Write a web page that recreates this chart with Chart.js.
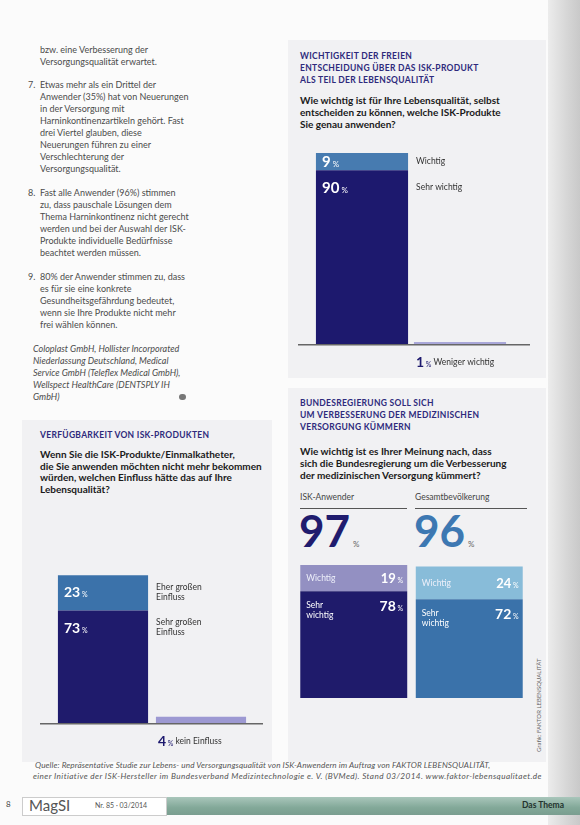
<!DOCTYPE html>
<html><head><meta charset="utf-8">
<script src="https://cdn.jsdelivr.net/npm/chart.js@4.4.1/dist/chart.umd.min.js"></script>
<style>
html,body{margin:0;padding:0;background:#fff;}
#page{position:relative;width:580px;height:825px;overflow:hidden;background:#fbfbfb;font-family:Lato,"Noto Sans",sans-serif;color:#333;}
.abs{position:absolute;white-space:nowrap;}
.txt{font-size:9px;line-height:12px;color:#4b4b4b;}
.num{position:absolute;left:-12px;}
.head{font-size:8.5px;font-weight:700;line-height:11.8px;color:#2e2a7c;letter-spacing:0.3px;}
.q{font-size:10px;font-weight:700;line-height:12px;color:#1a1a1a;}
.panel{position:absolute;background:#f1f1f3;}
.grp{font-size:8.5px;line-height:12px;color:#444;}
.rule{position:absolute;height:1px;background:#555;}
.big{font-size:44px;font-weight:700;line-height:44px;}
.foot{font-size:8.2px;font-style:italic;line-height:11px;color:#555;}
canvas{position:absolute;}
</style></head>
<body><div id="page">

<div class="panel" style="left:288px;top:40px;width:258px;height:338px;"></div>
<div class="panel" style="left:288px;top:388px;width:258px;height:374px;"></div>
<div class="panel" style="left:22px;top:420px;width:250px;height:342px;"></div>
<div class="abs" style="left:548px;top:0;width:32px;height:825px;background:linear-gradient(90deg,#ececec,#d6d6d6 60%,#c9c9c9);"></div>

<!-- left column text -->
<div class="abs txt" style="left:40px;top:44px;">bzw. eine Verbesserung der<br>Versorgungsqualität erwartet.</div>
<div class="abs txt" style="left:40px;top:79px;"><span class="num">7.</span>Etwas mehr als ein Drittel der<br>Anwender (35%) hat von Neuerungen<br>in der Versorgung mit<br>Harninkontinenzartikeln gehört. Fast<br>drei Viertel glauben, diese<br>Neuerungen führen zu einer<br>Verschlechterung der<br>Versorgungsqualität.</div>
<div class="abs txt" style="left:40px;top:187px;"><span class="num">8.</span>Fast alle Anwender (96%) stimmen<br>zu, dass pauschale Lösungen dem<br>Thema Harninkontinenz nicht gerecht<br>werden und bei der Auswahl der ISK-<br>Produkte individuelle Bedürfnisse<br>beachtet werden müssen.</div>
<div class="abs txt" style="left:40px;top:271px;"><span class="num">9.</span>80% der Anwender stimmen zu, dass<br>es für sie eine konkrete<br>Gesundheitsgefährdung bedeutet,<br>wenn sie Ihre Produkte nicht mehr<br>frei wählen können.</div>
<div class="abs txt" style="left:33px;top:343px;font-style:italic;">Coloplast GmbH, Hollister Incorporated<br>Niederlassung Deutschland, Medical<br>Service GmbH (Teleflex Medical GmbH),<br>Wellspect HealthCare (DENTSPLY IH<br>GmbH)</div>
<div class="abs" style="left:179px;top:394px;width:7px;height:6px;border-radius:3px;background:#777;"></div>

<!-- top right -->
<div class="abs head" style="left:300px;top:51px;">WICHTIGKEIT DER FREIEN<br>ENTSCHEIDUNG ÜBER DAS ISK-PRODUKT<br>ALS TEIL DER LEBENSQUALITÄT</div>
<div class="abs q" style="left:300px;top:94px;">Wie wichtig ist für Ihre Lebensqualität, selbst<br>entscheiden zu können, welche ISK-Produkte<br>Sie genau anwenden?</div>
<canvas id="frei" width="240" height="235" style="left:298px;top:140px;"></canvas>

<!-- bottom right -->
<div class="abs head" style="left:300px;top:398px;">BUNDESREGIERUNG SOLL SICH<br>UM VERBESSERUNG DER MEDIZINISCHEN<br>VERSORGUNG KÜMMERN</div>
<div class="abs q" style="left:300px;top:445px;">Wie wichtig ist es Ihrer Meinung nach, dass<br>sich die Bundesregierung um die Verbesserung<br>der medizinischen Versorgung kümmert?</div>
<div class="abs grp" id="g0" style="left:300px;top:491px;"></div>
<div class="abs grp" id="g1" style="left:415px;top:491px;"></div>
<div class="rule" style="left:300px;top:508px;width:107px;"></div>
<div class="rule" style="left:415px;top:508px;width:112px;"></div>
<div class="abs big" id="t0" style="left:299px;top:508px;color:#201c6e;"></div>
<div class="abs big" id="t1" style="left:414px;top:508px;color:#3d78b2;"></div>
<canvas id="bund" width="232" height="150" style="left:296px;top:555px;"></canvas>

<!-- bottom left -->
<div class="abs head" style="left:40px;top:430px;">VERFÜGBARKEIT VON ISK-PRODUKTEN</div>
<div class="abs q" style="left:40px;top:449px;line-height:11.7px;">Wenn Sie die ISK-Produkte/Einmalkatheter,<br>die Sie anwenden möchten nicht mehr bekommen<br>würden, welchen Einfluss hätte das auf Ihre<br>Lebensqualität?</div>
<canvas id="verf" width="235" height="200" style="left:38px;top:560px;"></canvas>

<!-- footer -->
<div class="abs foot" style="left:35px;top:760px;letter-spacing:0.1px;">Quelle: Repräsentative Studie zur Lebens- und Versorgungsqualität von ISK-Anwendern im Auftrag von FAKTOR LEBENSQUALITÄT,</div>
<div class="abs foot" style="left:33px;top:771px;letter-spacing:0.41px;">einer Initiative der ISK-Hersteller im Bundesverband Medizintechnologie e. V. (BVMed). Stand 03/2014. www.faktor-lebensqualitaet.de</div>
<div class="abs" style="left:535px;top:752px;transform:rotate(-90deg);transform-origin:0 0;font-size:6px;color:#666;">Grafik: FAKTOR LEBENSQUALITÄT</div>

<div class="abs" style="left:165px;top:797px;width:415px;height:18px;background:linear-gradient(180deg,#a9c6bb,#82a898 60%,#7a9e90);"></div>
<div class="abs" style="left:22px;top:797px;width:143px;height:17px;background:#fff;border:1px solid #ccc;"></div>
<div class="abs" style="left:6px;top:799px;font-size:8px;color:#444;">8</div>
<div class="abs" style="left:29px;top:796px;font-size:15px;color:#555;">MagSI</div>
<div class="abs" style="left:95px;top:801px;font-size:7px;color:#555;">Nr. 85 · 03/2014</div>
<div class="abs" style="left:522px;top:800px;font-size:8.5px;font-weight:700;color:#23332d;">Das Thema</div>

</div>
<script>
// WICHTIGKEIT DER FREIEN ENTSCHEIDUNG
const freiLabels = [['Sehr wichtig'], ['Wichtig'], ['Weniger wichtig']];
const freiValues = [90, 9, 1];
const freiColors = ['#1d196e', '#477bb0', '#a9a7d9'];

// VERFÜGBARKEIT VON ISK-PRODUKTEN
const verfLabels = [['Sehr großen', 'Einfluss'], ['Eher großen', 'Einfluss'], ['kein Einfluss']];
const verfValues = [73, 23, 4];
const verfColors = ['#1f1b6c', '#3b72aa', '#9d99d2'];

// BUNDESREGIERUNG
const bundGroups = ['ISK-Anwender', 'Gesamtbevölkerung'];
const bundSegments = [['Sehr', 'wichtig'], ['Wichtig']];
const bundSehr = [78, 72];
const bundWichtig = [19, 24];
const bundSehrColors = ['#1f1b6b', '#3a72aa'];
const bundWichtigColors = ['#9390c2', '#88bcd9'];

const FONT = 'Lato, "Noto Sans", sans-serif';

// draws "90 %" with small percent sign, returns right edge
function pct(ctx, v, x, cy, size, color, align) {
    ctx.save();
    ctx.textBaseline = 'alphabetic';
    ctx.fillStyle = color;
    const small = Math.round(size * 0.5);
    ctx.font = `700 ${size}px ${FONT}`;
    const w1 = ctx.measureText(String(v)).width;
    ctx.font = `400 ${small}px ${FONT}`;
    const w2 = ctx.measureText(' %').width;
    const x0 = align === 'right' ? x - w1 - w2 : x;
    const y = cy + size * 0.36;
    ctx.font = `700 ${size}px ${FONT}`;
    ctx.fillText(String(v), x0, y);
    ctx.font = `400 ${small}px ${FONT}`;
    ctx.fillText(' %', x0 + w1, y);
    ctx.restore();
    return x0 + w1 + w2;
}

function lines(ctx, arr, x, cy, size, color, lh) {
    ctx.save();
    ctx.fillStyle = color;
    ctx.font = `400 ${size}px ${FONT}`;
    ctx.textBaseline = 'middle';
    const start = cy - (arr.length - 1) * lh / 2;
    arr.forEach((t, k) => ctx.fillText(t, x, start + k * lh));
    ctx.restore();
}

const sidePlugin = {
    id: 'sideText',
    afterDatasetsDraw(chart, args, o) {
        const ctx = chart.ctx, area = chart.chartArea;
        ctx.save();
        ctx.strokeStyle = '#666';
        ctx.lineWidth = 1.5;
        ctx.beginPath();
        ctx.moveTo(o.lineFrom, area.bottom + 0.75);
        ctx.lineTo(o.lineTo, area.bottom + 0.75);
        ctx.stroke();
        ctx.restore();
        [0, 1].forEach(i => {
            const el = chart.getDatasetMeta(i).data[0];
            const left = el.x - el.width / 2, right = el.x + el.width / 2;
            const h = el.base - el.y;
            const cy = el.y + Math.min(h / 2, 17);
            pct(ctx, chart.data.datasets[i].data[0], left + 6, cy, o.size, '#fff');
            lines(ctx, o.labels[i], right + 8, cy, 8.5, '#333', 10);
        });
        const el = chart.getDatasetMeta(2).data[1];
        const cy = area.bottom + 18;
        const end = pct(ctx, chart.data.datasets[2].data[1], el.x - el.width / 2 + 2, cy, 14, '#1d196e');
        lines(ctx, o.labels[2], end + 2, cy, 8.5, '#333', 10);
    }
};

function sideStack(id, labels, values, colors, pad, barPct, lineFrom, lineTo, size) {
    new Chart(document.getElementById(id), {
        type: 'bar',
        data: {
            labels: ['a', 'b'],
            datasets: [
                { label: labels[0].join(' '), data: [values[0], null], backgroundColor: colors[0] },
                { label: labels[1].join(' '), data: [values[1], null], backgroundColor: colors[1] },
                { label: labels[2].join(' '), data: [null, values[2]], backgroundColor: colors[2] }
            ]
        },
        options: {
            responsive: false,
            animation: false,
            layout: { padding: pad },
            datasets: { bar: { categoryPercentage: 1, barPercentage: barPct, stack: 's' } },
            scales: {
                x: { display: false, stacked: true },
                y: { display: false, stacked: true, min: 0, max: 100 }
            },
            plugins: {
                legend: { display: false },
                tooltip: { enabled: false },
                sideText: { labels, lineFrom, lineTo, size }
            }
        },
        plugins: [sidePlugin]
    });
}

sideStack('frei', freiLabels, freiValues, freiColors,
    { left: 15, right: 29, top: 11, bottom: 31 }, 0.94, 0, 232, 15);
sideStack('verf', verfLabels, verfValues, verfColors,
    { left: 16, right: 23, top: 9, bottom: 37 }, 0.92, 2, 225, 14);

// Bundesregierung header texts
bundGroups.forEach((g, i) => {
    document.getElementById('g' + i).textContent = g;
    const total = bundSehr[i] + bundWichtig[i];
    document.getElementById('t' + i).innerHTML = total + '<span style="font-size:8px;font-weight:400;color:#666;margin-left:3px;">%</span>';
});

const inPlugin = {
    id: 'inText',
    afterDatasetsDraw(chart) {
        const ctx = chart.ctx;
        chart.data.labels.forEach((g, j) => {
            const w = chart.getDatasetMeta(1).data[j];
            const s = chart.getDatasetMeta(0).data[j];
            const lw = w.x - w.width / 2, rw = w.x + w.width / 2;
            const cyW = (w.y + w.base) / 2;
            lines(ctx, bundSegments[1], lw + 6, cyW, 8.5, '#eef0fa', 10);
            pct(ctx, bundWichtig[j], rw - 4, cyW, 13, '#fff', 'right');
            lines(ctx, bundSegments[0], lw + 6, s.y + 19, 8.5, '#fff', 10);
            pct(ctx, bundSehr[j], rw - 4, s.y + 15, 14, '#fff', 'right');
        });
    }
};

new Chart(document.getElementById('bund'), {
    type: 'bar',
    data: {
        labels: bundGroups,
        datasets: [
            { label: bundSegments[0].join(' '), data: bundSehr, backgroundColor: bundSehrColors },
            { label: bundSegments[1].join(' '), data: bundWichtig, backgroundColor: bundWichtigColors }
        ]
    },
    options: {
        responsive: false,
        animation: false,
        layout: { padding: { left: 0, right: 1, top: 6, bottom: 7 } },
        datasets: { bar: { categoryPercentage: 1, barPercentage: 0.926 } },
        scales: {
            x: { display: false, stacked: true },
            y: { display: false, stacked: true, min: 0, max: 100 }
        },
        plugins: { legend: { display: false }, tooltip: { enabled: false } }
    },
    plugins: [inPlugin]
});
</script>
</body></html>
